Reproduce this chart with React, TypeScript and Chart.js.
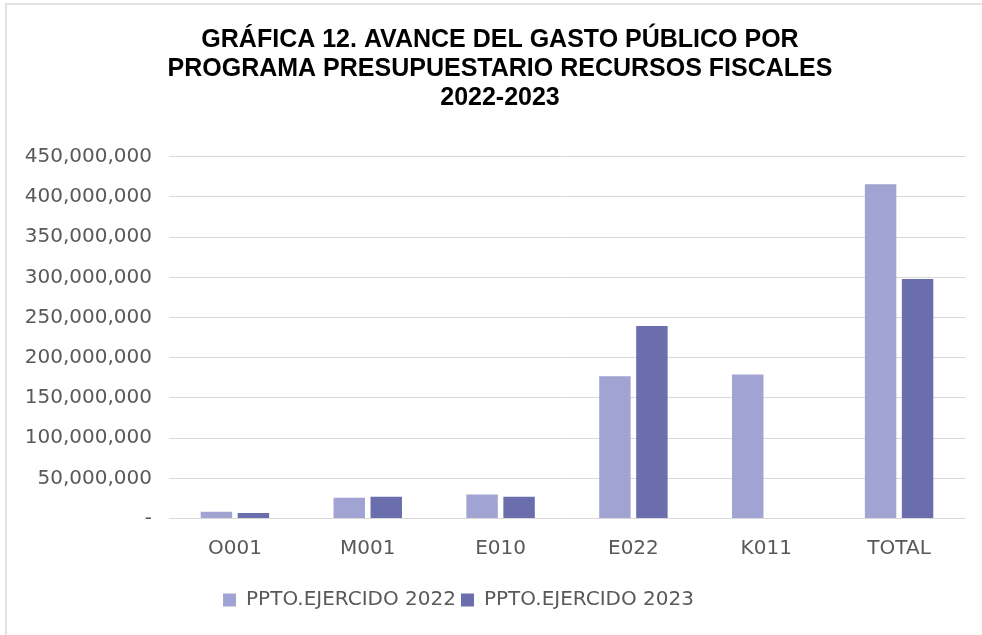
import React, { useEffect, useRef } from 'react';
import { Chart, registerables } from 'chart.js';

Chart.register(...registerables);

const categories = ['O001', 'M001', 'E010', 'E022', 'K011', 'TOTAL'];
const ejercido2022 = [8300000, 25800000, 30000000, 177000000, 179000000, 415800000];
const ejercido2023 = [6700000, 27100000, 27100000, 239600000, 0, 297900000];
const seriesLabels = ['PPTO.EJERCIDO 2022', 'PPTO.EJERCIDO 2023'];
const titleLines = [
  'GRÁFICA 12. AVANCE DEL GASTO PÚBLICO POR',
  'PROGRAMA PRESUPUESTARIO RECURSOS FISCALES',
  '2022-2023',
];
const yMax = 450000000;
const yStep = 50000000;

const placeBoxes = {
  id: 'placeBoxes',
  beforeDraw(chart: any) {
    const t = chart.titleBlock;
    if (t) {
      t.left = 18;
      t.right = 982;
    }
    const l = chart.legend;
    if (l) {
      l.left = 0;
      l.right = 917;
    }
  },
};

export default function App() {
  const ref = useRef<HTMLCanvasElement | null>(null);

  useEffect(() => {
    if (!ref.current) return;
    const chart = new Chart(ref.current, {
      type: 'bar',
      data: {
        labels: categories,
        datasets: [
          {
            label: seriesLabels[0],
            data: ejercido2022,
            backgroundColor: '#A1A3D2',
            borderWidth: 0,
            barPercentage: 0.85,
            categoryPercentage: 0.557,
          },
          {
            label: seriesLabels[1],
            data: ejercido2023,
            backgroundColor: '#6B6EAD',
            borderWidth: 0,
            barPercentage: 0.85,
            categoryPercentage: 0.557,
          },
        ],
      },
      options: {
        animation: false,
        responsive: false,
        devicePixelRatio: 1,
        layout: { padding: { left: 0, right: 16.5, top: 0, bottom: 15 } },
        plugins: {
          title: {
            display: true,
            text: titleLines,
            color: '#000000',
            font: { family: '"Liberation Sans", Arial, sans-serif', size: 25, weight: 'bold', lineHeight: 1.17 },
            padding: { top: 25, bottom: 44 },
          },
          legend: {
            display: true,
            position: 'bottom',
            labels: {
              color: '#595959',
              font: { family: '"DejaVu Sans", sans-serif', size: 20 },
              boxWidth: 13,
              boxHeight: 13,
              padding: 5,
            },
          },
          tooltip: { enabled: false },
        },
        scales: {
          x: {
            grid: { display: false, drawTicks: false },
            border: { display: false },
            ticks: {
              color: '#595959',
              font: { family: '"DejaVu Sans", sans-serif', size: 20 },
              padding: 18,
              maxRotation: 0,
            },
            afterFit(scale: any) {
              scale.height = 66.5;
            },
          },
          y: {
            min: 0,
            max: yMax,
            grid: { color: '#D9D9D9', lineWidth: 1, drawTicks: false },
            border: { display: false },
            ticks: {
              stepSize: yStep,
              color: '#595959',
              font: { family: '"DejaVu Sans", sans-serif', size: 20 },
              padding: 16.5,
              callback: (v: any) => (Number(v) === 0 ? '-' : Number(v).toLocaleString('en-US')),
            },
            afterFit(scale: any) {
              scale.width = 168.5;
            },
          },
        },
      },
      plugins: [placeBoxes],
    });
    return () => chart.destroy();
  }, []);

  return (
    <div style={{ position: 'fixed', left: 0, top: 0, width: 982, height: 635, background: '#ffffff', overflow: 'hidden' }}>
      <canvas ref={ref} width={982} height={635} style={{ display: 'block', width: 982, height: 635 }} />
      <div
        style={{
          position: 'absolute',
          left: 5,
          top: 3,
          width: 1000,
          height: 700,
          borderTop: '2px solid #E2E2E2',
          borderLeft: '2px solid #E2E2E2',
          pointerEvents: 'none',
        }}
      />
    </div>
  );
}
